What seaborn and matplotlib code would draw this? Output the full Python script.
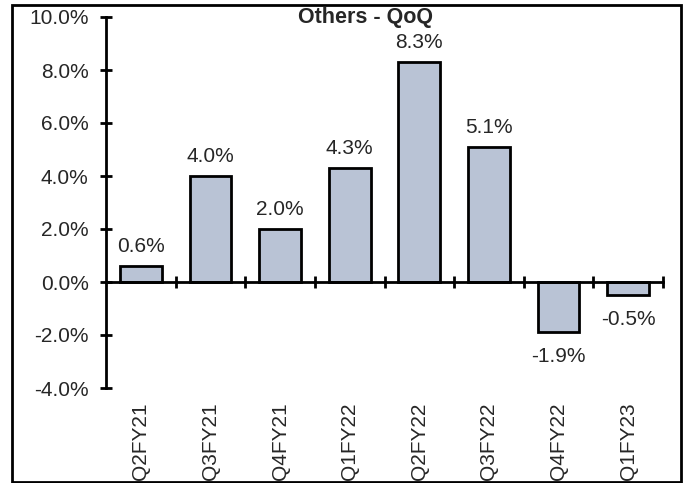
import matplotlib
matplotlib.use("Agg")
import matplotlib.pyplot as plt
import matplotlib.transforms as mtransforms
from matplotlib.patches import Rectangle
import seaborn as sns
import pandas as pd

# Quarter-on-quarter growth of the "Others" segment (%)
quarters = ["Q2FY21", "Q3FY21", "Q4FY21", "Q1FY22", "Q2FY22", "Q3FY22", "Q4FY22", "Q1FY23"]
growth = [0.6, 4.0, 2.0, 4.3, 8.3, 5.1, -1.9, -0.5]
y_ticks = [-4, -2, 0, 2, 4, 6, 8, 10]
title = "Others - QoQ"

sns.set_style("white")
plt.rcParams["font.family"] = ["Liberation Sans", "DejaVu Sans"]

W, H = 691, 483
FS = 15
fig = plt.figure(figsize=(W / 100, H / 100), dpi=100)
ax = fig.add_axes([106 / W, 1 - 388 / H, (663 - 106) / W, (388 - 17) / H])

df = pd.DataFrame({"quarter": quarters, "growth": growth})
sns.barplot(data=df, x="quarter", y="growth", color="#B9C3D5", saturation=1,
            edgecolor="black", linewidth=2, width=0.6, ax=ax)

ax.set_xlim(-0.5, len(quarters) - 0.5)
ax.set_ylim(y_ticks[0], y_ticks[-1])
ax.set_yticks(y_ticks)
ax.set_yticklabels([f"{t:.1f}%" for t in y_ticks])
ax.set_xlabel("")
ax.set_ylabel("")

# Category axis sits on the zero line, ticks mark category boundaries
for side in ("top", "right"):
    ax.spines[side].set_visible(False)
ax.spines["bottom"].set_position(("data", 0))
for side in ("left", "bottom"):
    ax.spines[side].set_linewidth(2)
    ax.spines[side].set_color("black")
ax.set_xticks([i + 0.5 for i in range(len(quarters))])
ax.set_xticklabels([])
ax.tick_params(axis="x", bottom=True, direction="inout", length=9, width=2,
               color="black")
ax.tick_params(axis="y", left=True, direction="inout", length=9, width=2,
               color="black", pad=8, labelsize=FS)

# Quarter names below the plot area
trans = mtransforms.blended_transform_factory(ax.transData, ax.transAxes)
for i, q in enumerate(quarters):
    ax.text(i, -0.04, q, transform=trans, rotation=90, ha="center", va="top",
            fontsize=FS)

# Value labels on bars
for i, v in enumerate(growth):
    if v >= 0:
        ax.annotate(f"{v:.1f}%", (i, v), xytext=(0, 10), textcoords="offset pixels",
                    ha="center", va="bottom", fontsize=FS)
    else:
        ax.annotate(f"{v:.1f}%", (i, v), xytext=(0, -15), textcoords="offset pixels",
                    ha="center", va="top", fontsize=FS)

fig.text(366 / W, 1 - 17 / H, title, ha="center", va="center",
         fontsize=15.5, fontweight="bold")

# Frame around the whole chart
fig.add_artist(Rectangle((12 / W, 1 / H), (681 - 12) / W, (478 - 1) / H,
                         transform=fig.transFigure, fill=False,
                         edgecolor="black", linewidth=2))

fig.savefig("out.png", dpi=100)
